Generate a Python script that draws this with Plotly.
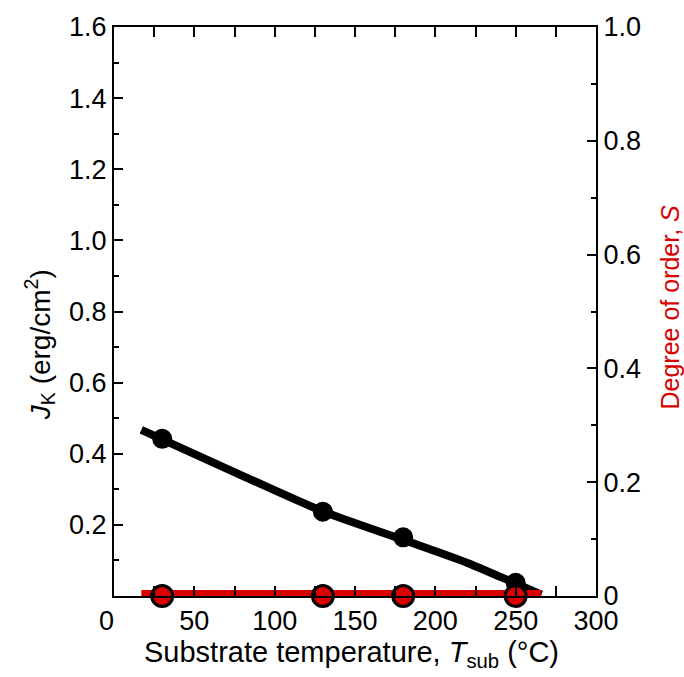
import plotly.graph_objects as go

# ---- data ----
t_sub = [30, 130, 180, 250]                 # substrate temperature (°C)
j_k = [0.442, 0.237, 0.165, 0.037]          # J_K (erg/cm^2)
s_order = [0.0, 0.0, 0.0, 0.0]              # degree of order S

fit_x = [17, 80, 130, 180, 220, 250, 266]   # guide curve
fit_y = [0.467, 0.338, 0.238, 0.158, 0.093, 0.035, 0.004]

s_line_x = [17, 266]
s_line_y = [0.0035, 0.0035]

x_ticks = [0, 50, 100, 150, 200, 250, 300]
x_ticktext = ["0\u00a0\u00a0", "50", "100", "150", "200", "250", "300"]
y_ticks = [0.2, 0.4, 0.6, 0.8, 1.0, 1.2, 1.4, 1.6]
y_ticktext = ["0.2", "0.4", "0.6", "0.8", "1.0", "1.2", "1.4", "1.6"]
y2_ticks = [0, 0.2, 0.4, 0.6, 0.8, 1.0]
y2_ticktext = ["0", "0.2", "0.4", "0.6", "0.8", "1.0"]

RED = "#d80000"
FONT = "Liberation Sans, Arial, sans-serif"

fig = go.Figure()

# red S line (on right axis)
fig.add_trace(go.Scatter(x=s_line_x, y=s_line_y, yaxis="y2", mode="lines",
                         line=dict(color=RED, width=8), hoverinfo="skip",
                         showlegend=False))
# black J_K curve
fig.add_trace(go.Scatter(x=fit_x, y=fit_y, mode="lines",
                         line=dict(color="black", width=8, shape="spline", smoothing=0.8),
                         showlegend=False, cliponaxis=False))
fig.add_trace(go.Scatter(x=t_sub, y=j_k, mode="markers",
                         marker=dict(color="black", size=20, line=dict(width=0)),
                         showlegend=False, cliponaxis=False))
# red S markers
fig.add_trace(go.Scatter(x=t_sub, y=s_order, yaxis="y2", mode="markers",
                         marker=dict(color=RED, size=21, line=dict(color="black", width=3)),
                         showlegend=False, cliponaxis=False))

tickfont = dict(family=FONT, size=27, color="black")

fig.update_layout(
    width=684, height=677,
    margin=dict(l=114, r=684 - 596, t=22, b=677 - 596),
    paper_bgcolor="white", plot_bgcolor="white",
    font=dict(family=FONT, color="black"),
    xaxis=dict(range=[0, 300], tickvals=x_ticks, ticktext=x_ticktext,
               ticks="inside", ticklen=10, tickwidth=2, tickcolor="black",
               minor=dict(dtick=25, ticks="inside", ticklen=5, tickwidth=2, tickcolor="black"),
               showline=True, linecolor="black", linewidth=2, mirror="allticks",
               showgrid=False, zeroline=False, tickfont=tickfont),
    yaxis=dict(range=[0, 1.6], tickvals=y_ticks, ticktext=y_ticktext,
               ticks="inside", ticklen=9, tickwidth=2, tickcolor="black",
               minor=dict(dtick=0.1, ticks="inside", ticklen=5, tickwidth=2, tickcolor="black"),
               showline=True, linecolor="black", linewidth=2,
               showgrid=False, zeroline=False, tickfont=tickfont),
    yaxis2=dict(range=[0, 1.0], overlaying="y", side="right",
                tickvals=y2_ticks, ticktext=y2_ticktext,
                ticks="inside", ticklen=9, tickwidth=2, tickcolor="black",
                minor=dict(dtick=0.1, ticks="inside", ticklen=5, tickwidth=2, tickcolor="black"),
                showline=True, linecolor="black", linewidth=2,
                showgrid=False, zeroline=False, tickfont=tickfont),
    annotations=[
        dict(text="<i>J</i><sub>K</sub> (erg/cm<sup>2</sup>)", xref="paper", yref="paper",
             x=(40 - 114) / 482, y=(596 - 343) / 574, textangle=-90, showarrow=False,
             font=dict(family=FONT, size=28, color="black"), xanchor="center", yanchor="middle"),
        dict(text="Degree of order, <i>S</i>", xref="paper", yref="paper",
             x=(670 - 114) / 482, y=(596 - 305) / 574, textangle=-90, showarrow=False,
             font=dict(family=FONT, size=25, color=RED), xanchor="center", yanchor="middle"),
        dict(text="Substrate temperature, <i>T</i><sub>sub</sub> (°C)", xref="paper", yref="paper",
             x=(351 - 114) / 482, y=(596 - 655) / 574, showarrow=False,
             font=dict(family=FONT, size=29, color="black"), xanchor="center", yanchor="middle"),
    ],
)

fig.write_html("out.html")
